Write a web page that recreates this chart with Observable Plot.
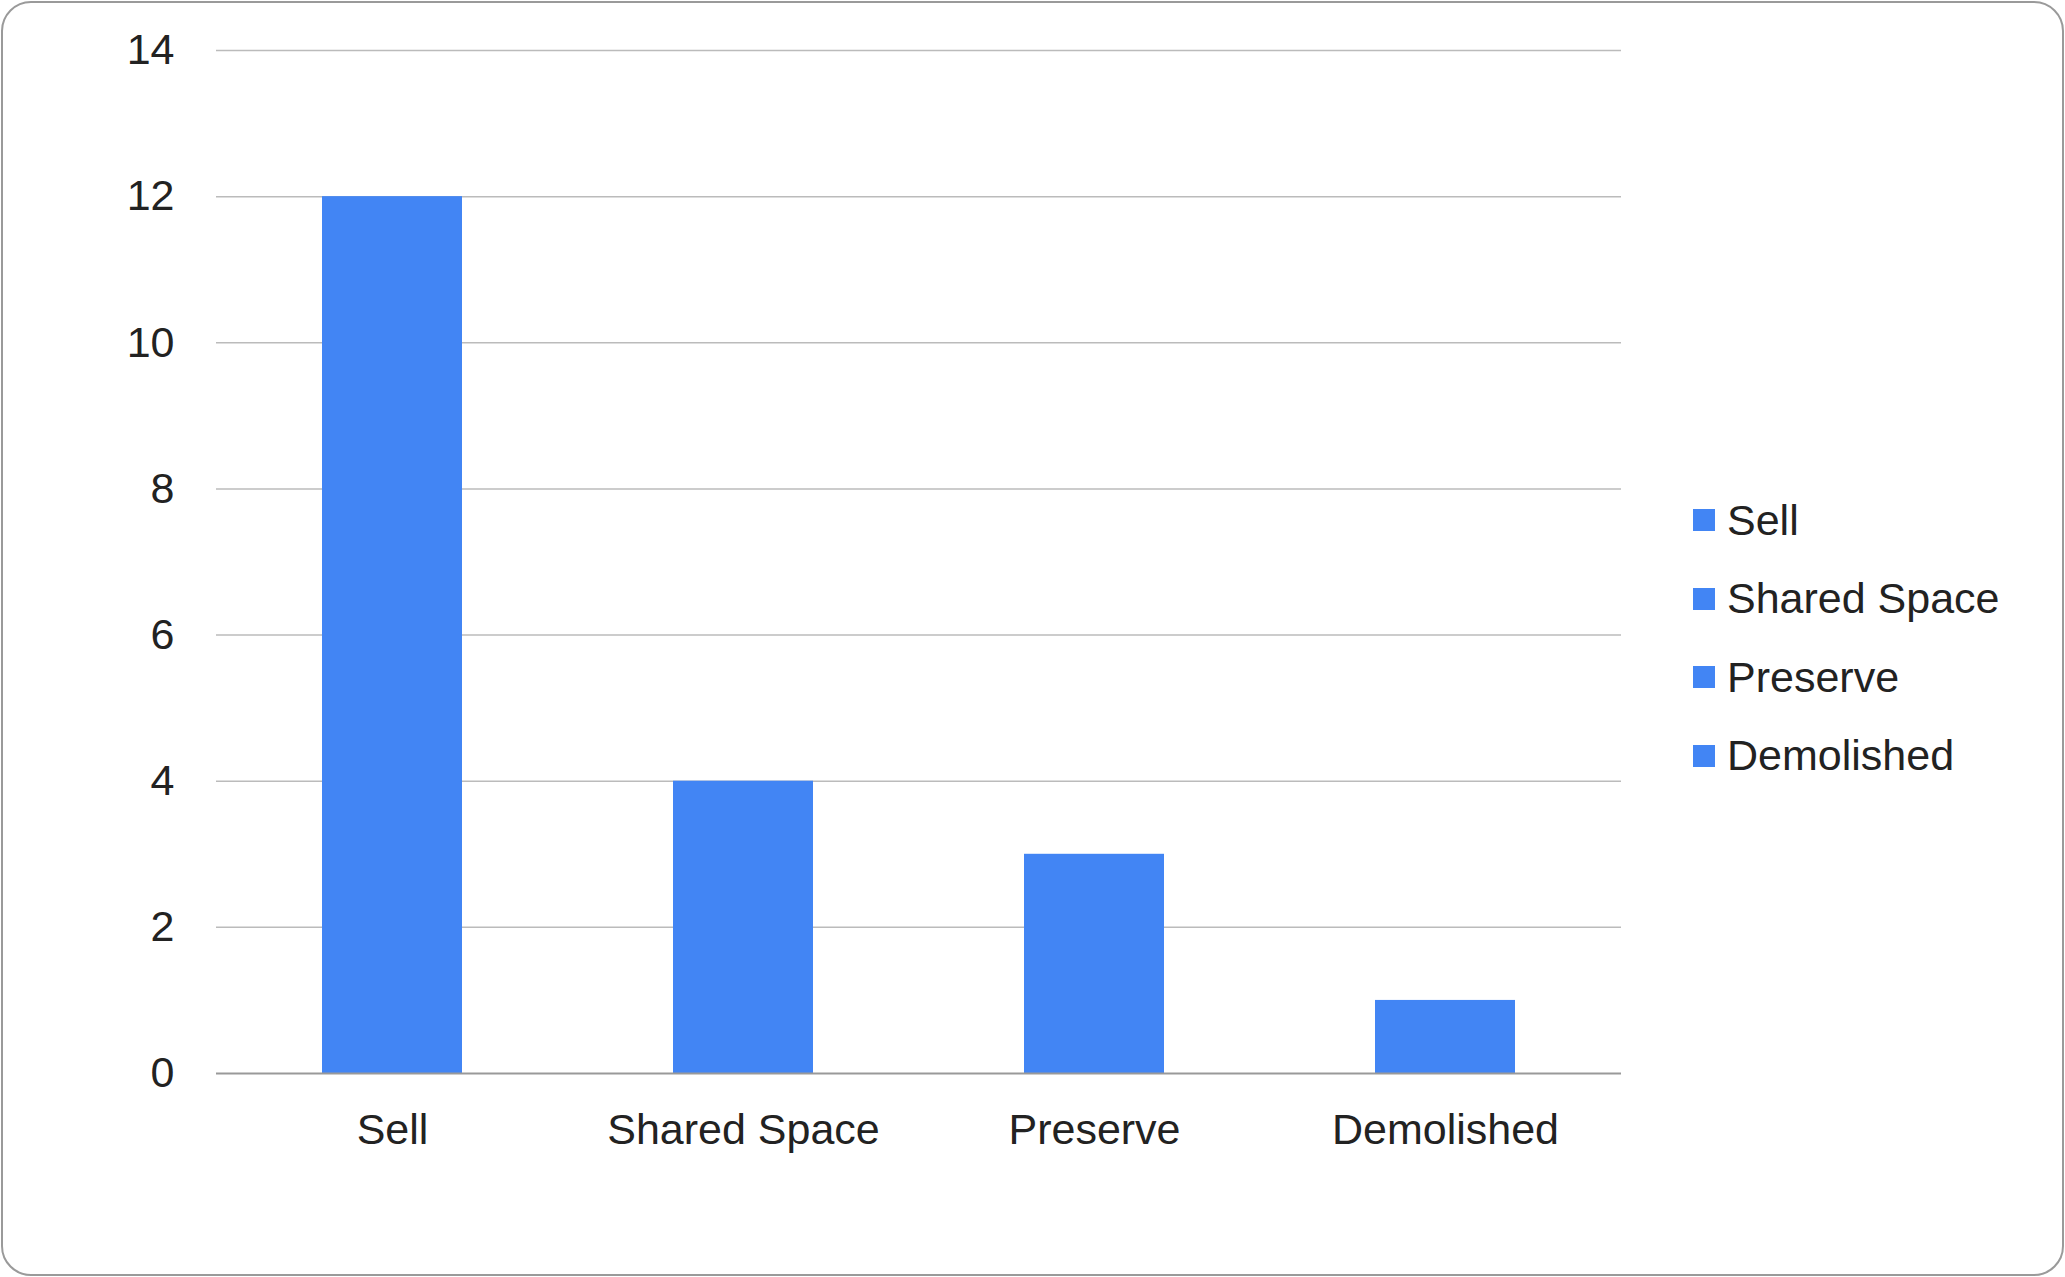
<!DOCTYPE html>
<html><head><meta charset="utf-8">
<script src="https://cdn.jsdelivr.net/npm/d3@7"></script>
<script src="https://cdn.jsdelivr.net/npm/@observablehq/plot@0.6"></script>
<style>
body{margin:0;background:#fff;font-family:"Liberation Sans",Arial,sans-serif;}
#frame{position:absolute;left:1px;top:1px;width:2059px;height:1271px;border:2px solid #9a9a9a;border-radius:30px;box-sizing:content-box;}
#chart{position:absolute;left:0;top:0;}
#legend{position:absolute;left:1693px;top:481px;font-size:43px;color:#222;}
.li{display:flex;align-items:center;height:78.5px;}
.sw{width:22px;height:22px;background:#4285f4;margin-right:12px;}
</style></head><body>
<div id="frame"></div>
<div id="chart"></div>
<div id="legend"></div>
<script>
const categories=["Sell","Shared Space","Preserve","Demolished"];
const values=[12,4,3,1];
const yTicks=[0,2,4,6,8,10,12,14];
const color="#4285f4";
const data=categories.map((c,i)=>({c,v:values[i]}));
const chart=Plot.plot({
  width:2065,height:1277,
  marginLeft:216,marginRight:444,marginTop:50,marginBottom:204,
  style:{fontFamily:"Liberation Sans, Arial, sans-serif",fontSize:"43px",color:"#222",background:"transparent"},
  x:{domain:categories,paddingInner:0.6,paddingOuter:0.3,label:null,tickSize:0,tickPadding:40},
  y:{domain:[0,14],ticks:yTicks,label:null,tickSize:0,tickPadding:42},
  marks:[
    Plot.ruleY(yTicks.filter(t=>t>0),{stroke:"#bbb",strokeWidth:1.5}),
    Plot.barY(data,{x:"c",y:"v",fill:color}),
    Plot.ruleY([0],{stroke:"#999",strokeWidth:2})
  ]
});
chart.querySelectorAll("text").forEach(t=>t.setAttribute("fill","#222"));
document.getElementById("chart").appendChild(chart);
const lg=document.getElementById("legend");
categories.forEach(c=>{const d=document.createElement("div");d.className="li";d.innerHTML=`<span class="sw"></span><span>${c}</span>`;lg.appendChild(d);});
</script></body></html>
